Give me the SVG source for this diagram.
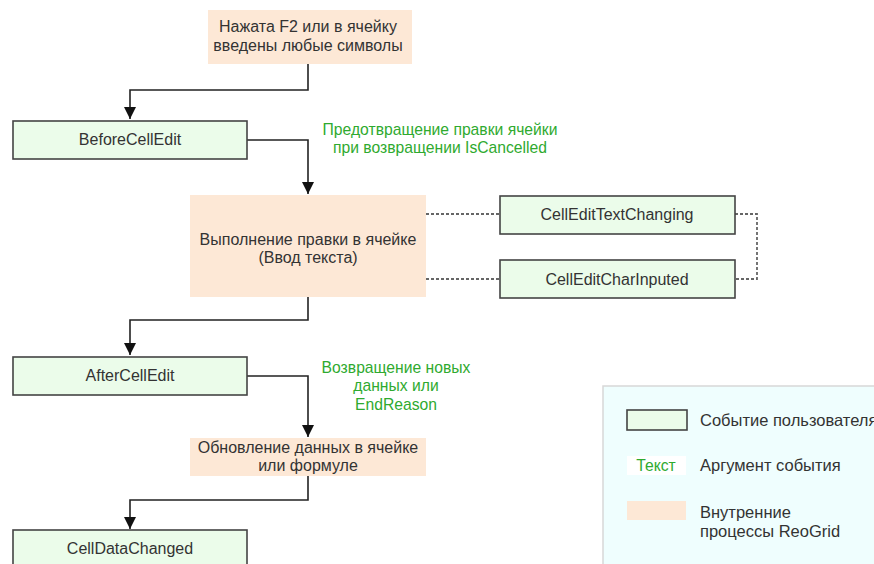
<svg xmlns="http://www.w3.org/2000/svg" width="874" height="564" viewBox="0 0 874 564">
<style>
.ev{fill:#ebfcea;stroke:#444;stroke-width:1.6}
.pr{fill:#fde8d6}
.t{font-family:"Liberation Sans",Arial,sans-serif;font-size:16px;fill:#333;text-anchor:middle}
.g{font-family:"Liberation Sans",Arial,sans-serif;font-size:15.7px;fill:#2faa2f;text-anchor:middle}
.lt{font-family:"Liberation Sans",Arial,sans-serif;font-size:16.5px;fill:#333}
.c{fill:none;stroke:#222;stroke-width:1.6}
.d{fill:none;stroke:#666;stroke-width:1.8;stroke-dasharray:3,2}
</style>
<defs>
<marker id="ah" viewBox="0 0 12 12" refX="12" refY="6" markerWidth="12" markerHeight="12" markerUnits="userSpaceOnUse" orient="auto">
<path d="M0,0 L12,6 L0,12 Z" fill="#111"/>
</marker>
</defs>
<rect width="874" height="564" fill="#fff"/>
<g id="connectors">
<path class="c" d="M308,64 V90 H130 V119" marker-end="url(#ah)"/>
<path class="c" d="M247,140 H308 V194" marker-end="url(#ah)"/>
<path class="c" d="M308,297 V320 H130 V355" marker-end="url(#ah)"/>
<path class="c" d="M247,376 H308 V437" marker-end="url(#ah)"/>
<path class="c" d="M308,476 V500 H130 V529" marker-end="url(#ah)"/>
<path class="d" d="M426,214 H500"/>
<path class="d" d="M426,279 H500"/>
<path class="d" d="M735,214 H757 V279 H735"/>
</g>
<g id="start">
<rect class="pr" x="208" y="10" width="204" height="54"/>
<text class="t" x="308" y="32">Нажата F2 или в ячейку</text>
<text class="t" x="308" y="51">введены любые символы</text>
</g>
<g id="beforeCellEdit">
<rect class="ev" x="13" y="121" width="234" height="38"/>
<text class="t" x="130" y="145">BeforeCellEdit</text>
</g>
<g id="label1">
<text class="g" x="440" y="135">Предотвращение правки ячейки</text>
<text class="g" x="440" y="153">при возвращении IsCancelled</text>
</g>
<g id="editing">
<rect class="pr" x="190" y="195" width="236" height="102"/>
<text class="t" x="308" y="245">Выполнение правки в ячейке</text>
<text class="t" x="308" y="263">(Ввод текста)</text>
</g>
<g id="cellEditTextChanging">
<rect class="ev" x="500" y="196" width="235" height="38"/>
<text class="t" x="617" y="220">CellEditTextChanging</text>
</g>
<g id="cellEditCharInputed">
<rect class="ev" x="500" y="260" width="235" height="38"/>
<text class="t" x="617" y="285">CellEditCharInputed</text>
</g>
<g id="afterCellEdit">
<rect class="ev" x="13" y="357" width="234" height="38"/>
<text class="t" x="130" y="381">AfterCellEdit</text>
</g>
<g id="label2">
<text class="g" x="396" y="373">Возвращение новых</text>
<text class="g" x="396" y="391">данных или</text>
<text class="g" x="396" y="410">EndReason</text>
</g>
<g id="update">
<rect class="pr" x="190" y="438" width="236" height="38"/>
<text class="t" x="308" y="453">Обновление данных в ячейке</text>
<text class="t" x="308" y="471">или формуле</text>
</g>
<g id="cellDataChanged">
<rect class="ev" x="13" y="530" width="234" height="40"/>
<text class="t" x="130" y="554">CellDataChanged</text>
</g>
<g id="legend">
<rect x="603" y="386" width="280" height="190" fill="#effefe" stroke="#d8d8d8" stroke-width="1.5"/>
<rect class="ev" x="627" y="410" width="60" height="20"/>
<text class="lt" x="700" y="426">Событие пользователя</text>
<rect x="627" y="456" width="59" height="19" fill="#fff"/>
<text class="g" x="656" y="471">Текст</text>
<text class="lt" x="700" y="471">Аргумент события</text>
<rect class="pr" x="627" y="501" width="59" height="19"/>
<text class="lt" x="700" y="518">Внутренние</text>
<text class="lt" x="700" y="537">процессы ReoGrid</text>
</g>
</svg>
